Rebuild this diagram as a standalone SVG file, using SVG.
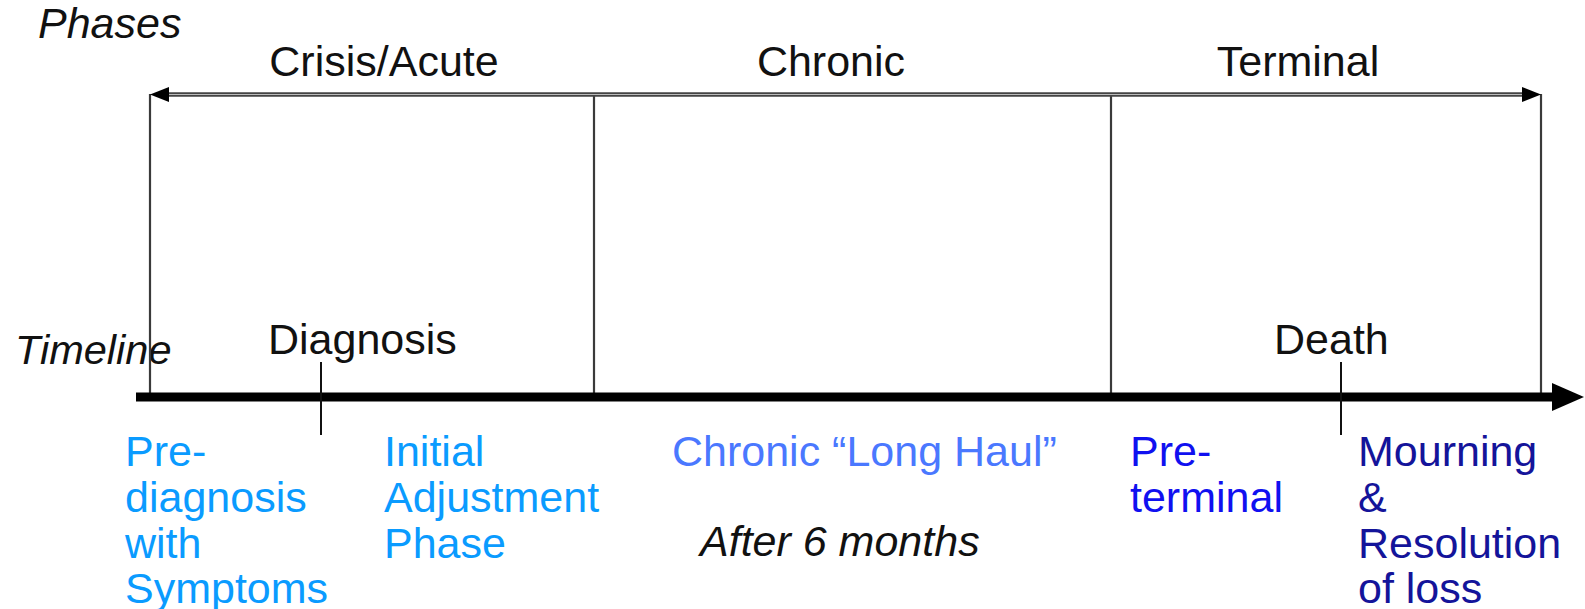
<svg xmlns="http://www.w3.org/2000/svg" width="1585" height="609" viewBox="0 0 1585 609">
<style>
text{font-family:"Liberation Sans",Arial,sans-serif;font-size:43px;fill:#111}
.it{font-style:italic}
.c1{fill:#0A9BFF}
.c2{fill:#4A78FF}
.c3{fill:#1010F0}
.c4{fill:#14149A}
.v{stroke:#3a3a3a;stroke-width:2.2;fill:none}
</style>
<g id="labels-left">
<text class="it" x="38" y="38">Phases</text>
<text class="it" x="15" y="364" style="font-size:41.5px">Timeline</text>
</g>
<g id="phase-crisis"><text x="384" y="76" text-anchor="middle">Crisis/Acute</text></g>
<g id="phase-chronic"><text x="831" y="76" text-anchor="middle">Chronic</text></g>
<g id="phase-terminal"><text x="1298" y="76" text-anchor="middle">Terminal</text></g>
<g id="connectors">
<line class="v" x1="150" y1="94" x2="150" y2="395"/>
<line class="v" x1="594" y1="94" x2="594" y2="395"/>
<line class="v" x1="1111" y1="94" x2="1111" y2="395"/>
<line class="v" x1="1541" y1="94" x2="1541" y2="395"/>
<line x1="168" y1="94.5" x2="1523" y2="94.5" stroke="#444" stroke-width="4.5"/>
<line x1="168" y1="94.5" x2="1523" y2="94.5" stroke="#bbb" stroke-width="1.2"/>
<path d="M150,94.5 L169,87 L169,102 Z" fill="#000"/>
<path d="M1541,94.5 L1522,87 L1522,102 Z" fill="#000"/>
<line x1="136" y1="397" x2="1552" y2="397" stroke="#000" stroke-width="9"/>
<path d="M1584,397 L1552,383 L1552,411 Z" fill="#000"/>
<line x1="321" y1="362" x2="321" y2="435" stroke="#111" stroke-width="2"/>
<line x1="1341" y1="362" x2="1341" y2="435" stroke="#111" stroke-width="2"/>
</g>
<g id="event-diagnosis"><text x="268" y="354">Diagnosis</text></g>
<g id="event-death"><text x="1274" y="354">Death</text></g>
<g id="stage-prediagnosis">
<text class="c1" x="125" y="466">Pre-</text>
<text class="c1" x="125" y="512">diagnosis</text>
<text class="c1" x="125" y="558">with</text>
<text class="c1" x="125" y="603">Symptoms</text>
</g>
<g id="stage-initial">
<text class="c1" x="384" y="466">Initial</text>
<text class="c1" x="384" y="512">Adjustment</text>
<text class="c1" x="384" y="558">Phase</text>
</g>
<g id="stage-chronic">
<text class="c2" x="672" y="466">Chronic “Long Haul”</text>
<text class="it" x="700" y="556">After 6 months</text>
</g>
<g id="stage-preterminal">
<text class="c3" x="1130" y="466">Pre-</text>
<text class="c3" x="1130" y="512">terminal</text>
</g>
<g id="stage-mourning">
<text class="c4" x="1358" y="466">Mourning</text>
<text class="c4" x="1358" y="512">&amp;</text>
<text class="c4" x="1358" y="558">Resolution</text>
<text class="c4" x="1358" y="603">of loss</text>
</g>
</svg>
